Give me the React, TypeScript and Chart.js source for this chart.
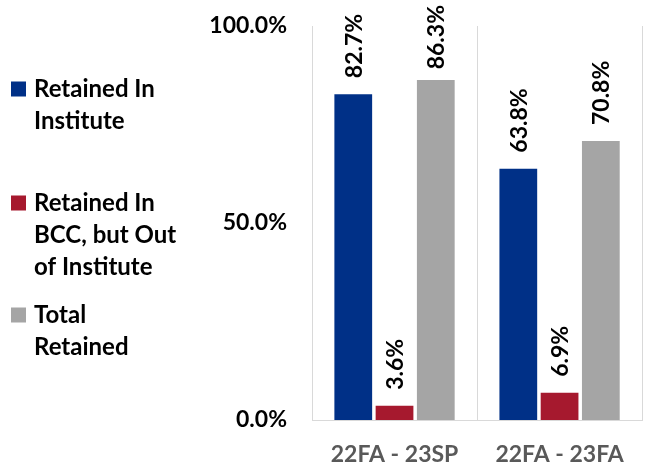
import React, { useEffect, useRef } from "react";
import { Chart, registerables } from "chart.js";

Chart.register(...registerables);

const categories = ["22FA - 23SP", "22FA - 23FA"];
const seriesNames = ["Retained In Institute", "Retained In BCC, but Out of Institute", "Total Retained"];
const legendLines = [["Retained In", "Institute"], ["Retained In", "BCC, but Out", "of Institute"], ["Total", "Retained"]];
const retainedInstitute = [82.7, 63.8];
const retainedBCC = [3.6, 6.9];
const totalRetained = [86.3, 70.8];
const colors = ["#003087", "#A6192E", "#A5A5A5"];
const yTicks = [0, 50, 100];

const FONT = "Lato";

const legendPlugin = {
  id: "leftLegend",
  afterDraw(chart: any) {
    const ctx = chart.ctx;
    const firstLineY = [89, 203, 315];
    const lineH = 32;
    ctx.save();
    ctx.font = `bold 24px ${FONT}`;
    ctx.textBaseline = "middle";
    ctx.textAlign = "left";
    legendLines.forEach((lines, i) => {
      const y0 = firstLineY[i];
      ctx.fillStyle = colors[i];
      ctx.fillRect(11, y0 - 7.5, 15, 15);
      ctx.fillStyle = "#000000";
      lines.forEach((ln, j) => ctx.fillText(ln, 34, y0 + j * lineH));
    });
    ctx.restore();
  },
};

const labelPlugin = {
  id: "barLabels",
  afterDatasetsDraw(chart: any) {
    const ctx = chart.ctx;
    ctx.save();
    ctx.font = `bold 23px ${FONT}`;
    ctx.fillStyle = "#000000";
    ctx.textBaseline = "middle";
    ctx.textAlign = "left";
    chart.data.datasets.forEach((ds: any, di: number) => {
      const meta = chart.getDatasetMeta(di);
      meta.data.forEach((bar: any, i: number) => {
        const txt = Number(ds.data[i]).toFixed(1) + "%";
        const w = ctx.measureText(txt).width;
        let start = bar.y - 16;
        if (start - w < 5) start = 5 + w;
        ctx.save();
        ctx.translate(bar.x, start);
        ctx.rotate(-Math.PI / 2);
        ctx.fillText(txt, 0, 1);
        ctx.restore();
      });
    });
    ctx.restore();
  },
};

export default function App() {
  const ref = useRef<HTMLCanvasElement>(null);
  useEffect(() => {
    if (!ref.current) return;
    const values = [retainedInstitute, retainedBCC, totalRetained];
    const chart = new Chart(ref.current, {
      type: "bar",
      data: {
        labels: categories,
        datasets: seriesNames.map((n, i) => ({
          label: n,
          data: values[i],
          backgroundColor: colors[i],
          categoryPercentage: 0.75,
          barPercentage: 0.915,
        })),
      },
      options: {
        animation: false,
        responsive: true,
        maintainAspectRatio: false,
        devicePixelRatio: 1,
        layout: { padding: { top: 26, right: 1, left: 0, bottom: 0 } },
        plugins: { legend: { display: false }, tooltip: { enabled: false } },
        scales: {
          x: {
            grid: { display: true, offset: true, color: "#D9D9D9", drawTicks: false, lineWidth: 1 },
            border: { display: true, color: "#D9D9D9" },
            ticks: { color: "#595959", font: { family: FONT, size: 23, weight: "bold" }, padding: 21 },
            afterFit: (s: any) => { s.height = 46; },
          },
          y: {
            min: 0,
            max: 100,
            afterBuildTicks: (s: any) => { s.ticks = yTicks.map((v) => ({ value: v })); },
            grid: { display: false, drawTicks: true, tickLength: 25 },
            border: { display: true, color: "#D9D9D9" },
            ticks: {
              color: "#000000",
              font: { family: FONT, size: 23, weight: "bold" },
              padding: 0,
              callback: (v: any) => Number(v).toFixed(1) + "%",
            },
            afterFit: (s: any) => { s.width = 312; },
          },
        },
      },
      plugins: [legendPlugin, labelPlugin],
    });
    return () => chart.destroy();
  }, []);
  return (
    <div style={{ position: "fixed", left: 0, top: 0, width: 645, height: 466, background: "#fff" }}>
      <canvas ref={ref} />
    </div>
  );
}
